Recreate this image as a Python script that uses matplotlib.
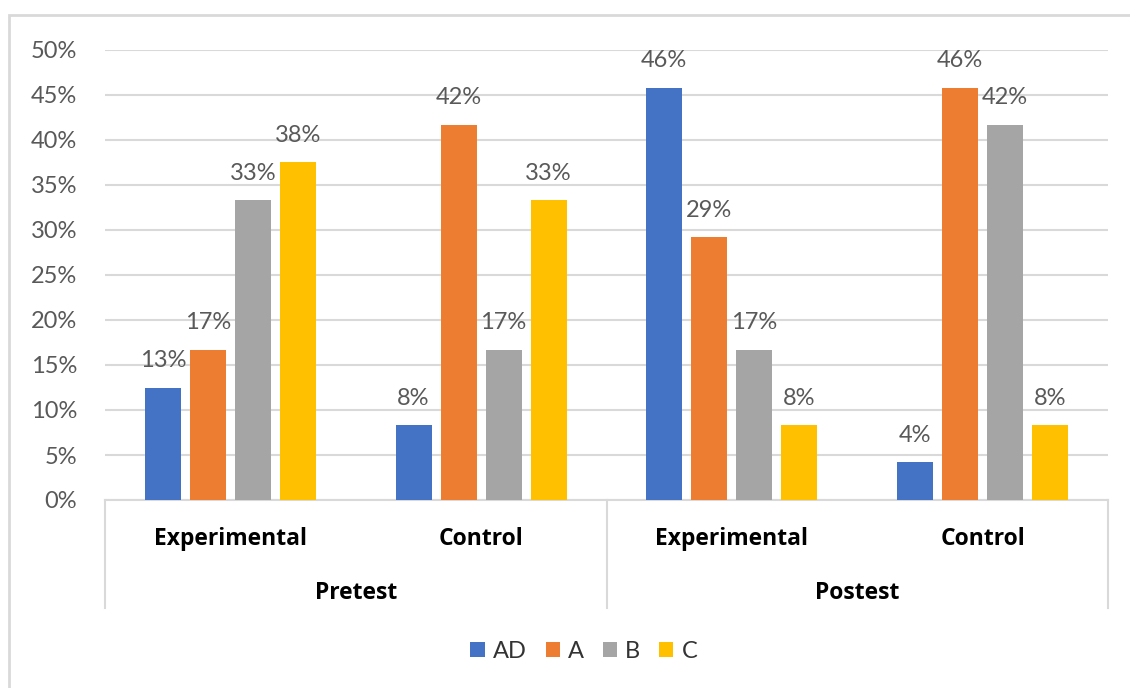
import numpy as np
import matplotlib.pyplot as plt
from matplotlib.lines import Line2D
from matplotlib.patches import Rectangle

plt.rcParams['font.family'] = ['Lato', 'DejaVu Sans']

# Data (percent of students per level)
groups = ['Experimental', 'Control', 'Experimental', 'Control']
phases = ['Pretest', 'Postest']
levels = ['AD', 'A', 'B', 'C']
ad = [12.5, 8.3, 45.8, 4.2]
a = [16.7, 41.7, 29.2, 45.8]
b = [33.3, 16.7, 16.7, 41.7]
c = [37.5, 33.3, 8.3, 8.3]
colors = ['#4472C4', '#ED7D31', '#A5A5A5', '#FFC000']

grid_col = '#d9d9d9'
txt_col = '#595959'

fig = plt.figure(figsize=(11.3, 6.88), dpi=100)
ax = fig.add_axes([105/1130, 1-500/688, 1003/1130, 450/688])

x = np.arange(len(groups))
step = 0.1795
w = 0.1436
for i, (vals, col) in enumerate(zip([ad, a, b, c], colors)):
    pos = x + (i - 1.5)*step
    ax.bar(pos, vals, width=w, color=col, label=levels[i], zorder=3)
    for p, v in zip(pos, vals):
        ax.annotate(f'{int(v + 0.5)}%', (p, v), xytext=(0, 12), textcoords='offset points',
                    ha='center', va='bottom', fontsize=17, color=txt_col)

ax.set_xlim(-0.5, 3.5)
ax.set_ylim(0, 50)
ax.set_yticks(np.arange(0, 51, 5))
ax.set_yticklabels([f'{t}%' for t in range(0, 51, 5)], fontsize=17, color=txt_col)
ax.tick_params(axis='y', length=0, pad=20)
ax.set_xticks([])
ax.grid(axis='y', color=grid_col, linewidth=1.5, zorder=0)
for s in ['top', 'right', 'left']:
    ax.spines[s].set_visible(False)
ax.spines['bottom'].set_color(grid_col)
ax.spines['bottom'].set_linewidth(1.5)

# multi-level category axis
tr = ax.get_xaxis_transform()
for xi, g in zip(x, groups):
    ax.text(xi, -39/450, g, transform=tr, ha='center', va='center',
            fontsize=16.5, fontweight='bold', family='Open Sans', color='black', clip_on=False)
for k, ph in enumerate(phases):
    ax.text(2*k + 0.5, -93/450, ph, transform=tr, ha='center', va='center',
            fontsize=16.5, fontweight='bold', family='Open Sans', color='black', clip_on=False)
for xs in [-0.5, 1.5, 3.5]:
    ax.add_line(Line2D([xs, xs], [0, -108/450], transform=tr, color=grid_col,
                       linewidth=1.5, clip_on=False))

fig.legend(loc='center', bbox_to_anchor=(584/1130, 1-651/688), ncol=4,
           frameon=False, fontsize=17, handlelength=0.6, handleheight=0.6,
           handletextpad=0.35, columnspacing=0.8, labelcolor='#333333')

# outer chart frame
fig.add_artist(Rectangle((9/1130, -0.05), 1.2, 1-15/688+0.05,
                         transform=fig.transFigure, fill=False,
                         edgecolor=grid_col, linewidth=2))

fig.savefig('out.png', dpi=100)
